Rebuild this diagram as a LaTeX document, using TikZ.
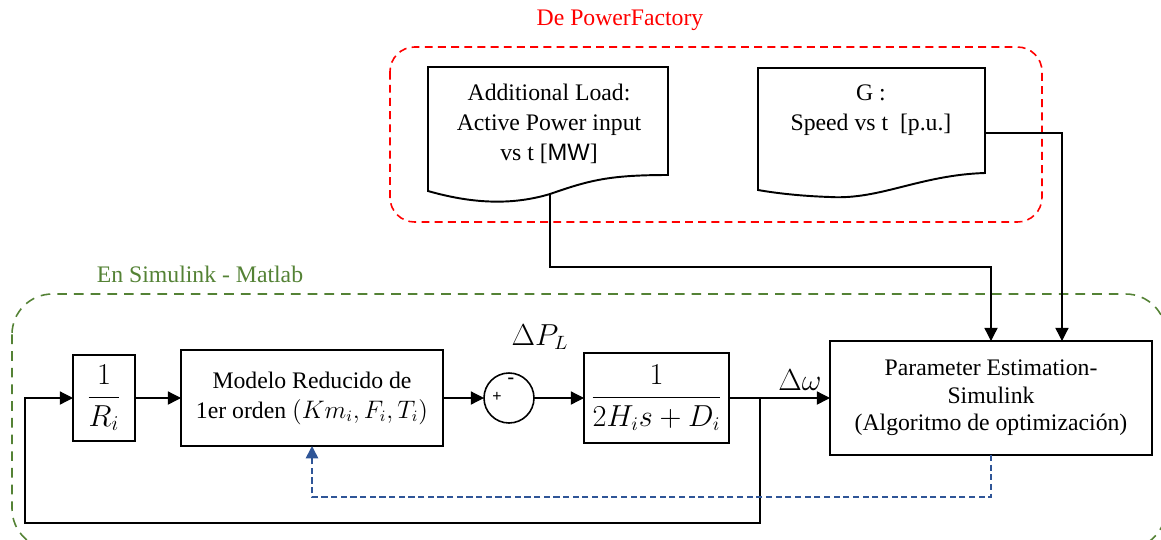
\documentclass[tikz,border=0pt]{standalone}
\usepackage{amsmath}
\usepackage{fontspec}
\setmainfont{Liberation Serif}
\newfontfamily\arialfont{Liberation Sans}
\usetikzlibrary{arrows.meta,calc}
\definecolor{pfred}{RGB}{255,0,0}
\definecolor{simgreen}{RGB}{84,130,53}
\definecolor{fbblue}{RGB}{47,85,151}
\tikzset{
  txt/.style={font=\fontsize{13.5}{17}\selectfont, align=center, inner sep=0pt},
  blockbox/.style={draw, line width=1.1pt, inner sep=0pt, outer sep=0pt, txt},
  conn/.style={line width=0.7pt},
  arr/.style={-{Triangle[length=7.5pt,width=7.5pt]}},
  docshape/.style={draw, line width=1.1pt, fill=white},
  fbline/.style={draw=fbblue, line width=0.9pt, dash pattern=on 3.5pt off 2pt, -{Triangle[length=7pt,width=7pt,fill=fbblue]}},
}
\begin{document}
\begin{tikzpicture}[x=0.02cm,y=-0.02cm]
\clip (0,0) rectangle (1161,539);
\useasboundingbox (0,0) rectangle (1161,539);

% groups
\draw[pfred, line width=0.9pt, dash pattern=on 4.5pt off 3pt, rounded corners=14pt] (390,47) rectangle (1042,222);
\node[txt, text=pfred] (pftitle) at (620,20) {De PowerFactory};
\draw[simgreen, line width=0.9pt, dash pattern=on 5.5pt off 4pt, rounded corners=23pt] (12,294) rectangle (1166,549);
\node[txt, text=simgreen] (simtitle) at (200,274) {En Simulink - Matlab};

% documents
\draw[docshape] (428,67) -- (668,67) -- (668,175)
  .. controls (610,175) and (590,180) .. (550,194)
  .. controls (510,206) and (470,203) .. (428,191) -- cycle;
\node[txt] (doc1) at (549,124) {Additional Load:\\Active Power input\\vs t [{\arialfont MW}]};
\coordinate (d1b) at (550,194);

\draw[docshape] (758,68) -- (985,68) -- (985,173)
  .. controls (920,175) and (880,200) .. (830,197)
  .. controls (800,196) and (775,193) .. (758,190) -- cycle;
\node[txt] (doc2) at (871,110) {G :\\Speed vs t~~[p.u.]};
\coordinate (d2r) at (985,133);

% blocks
\node[blockbox, minimum width=1.24cm, minimum height=1.72cm] (rb) at (104,398) {\fontsize{16.5}{19}\selectfont$\dfrac{1}{R_i}$};
\node[blockbox, minimum width=5.24cm, minimum height=1.92cm] (mod) at (312,398) {Modelo Reducido de\\1er orden $(Km_i, F_i, T_i)$};
\node[draw, circle, line width=0.9pt, minimum size=1.0cm, inner sep=0pt, outer sep=0pt] (sum) at (509,398) {};
\node[font=\arialfont\fontsize{9}{10}\selectfont, inner sep=0pt] (plus) at (497,397) {+};
\node[font=\arialfont\fontsize{12}{10}\selectfont, inner sep=0pt] (minus) at (511,381) {-};
\node[blockbox, minimum width=2.9cm, minimum height=1.8cm] (tf) at (656.5,398) {\fontsize{16}{19}\selectfont$\dfrac{1}{2H_i s + D_i}$};
\node[blockbox, minimum width=6.44cm, minimum height=2.28cm, font=\fontsize{13.5}{15.6}\selectfont] (pe) at (991,398) {Parameter Estimation-\\Simulink\\(Algoritmo de optimización)};

% labels
\node[txt] (dpl) at (540,337) {\fontsize{16}{18}\selectfont$\Delta P_L$};
\node[txt] (dw) at (800,380) {\fontsize{16}{18}\selectfont$\Delta\omega$};

% connectors
\draw[conn, arr] (rb.east) -- (mod.west);
\draw[conn, arr] (mod.east) -- (sum.west);
\draw[conn, arr] (sum.east) -- (tf.west);
\draw[conn, arr] (tf.east) -- (pe.west);
\coordinate (br) at (760,398);
\draw[conn, arr] (br) |- ($(rb.west)+(-48,125)$) |- (rb.west);
\draw[conn, arr] (d1b) -- ++(0,73) -| (pe.north);
\draw[conn, arr] (d2r) -| ([xshift=1.42cm]pe.north);
\draw[fbline] (pe.south) |- ($(mod.south)+(0,51)$) -- (mod.south);
\end{tikzpicture}
\end{document}
